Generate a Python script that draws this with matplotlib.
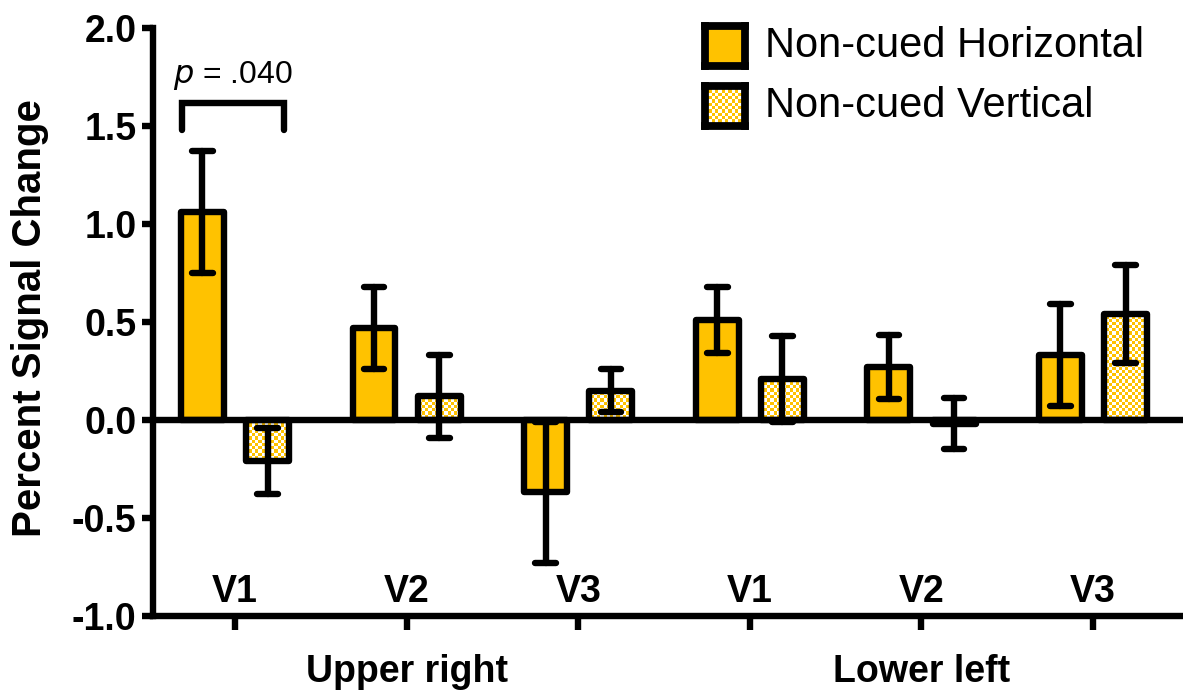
import matplotlib
matplotlib.use("Agg")
import matplotlib.pyplot as plt
import numpy as np
from matplotlib.patches import Rectangle
from matplotlib.transforms import blended_transform_factory

# ----------------------------- Data ------------------------------------------

AREAS = ["V1", "V2", "V3", "V1", "V2", "V3"]
GROUPS = ["Upper right", "Lower left"]
GROUP_CENTER = [1, 4]
SERIES = ["Non-cued Horizontal", "Non-cued Vertical"]

horiz_mean = [1.06, 0.47, -0.37, 0.51, 0.27, 0.33]
horiz_err = [0.31, 0.21, 0.36, 0.17, 0.165, 0.26]
vert_mean = [-0.21, 0.12, 0.15, 0.21, -0.02, 0.54]
vert_err = [0.17, 0.21, 0.11, 0.22, 0.13, 0.25]

Y_TICKS = [-1.0, -0.5, 0.0, 0.5, 1.0, 1.5, 2.0]
Y_TICK_LABELS = ["-1.0", "-0.5", "0.0", "0.5", "1.0", "1.5", "2.0"]

# ----------------------------- Style -----------------------------------------

GOLD = "#FFC200"
LW = 4.6
BAR_W = 0.25
OFFSET = 0.19
XLIM = (-0.478, 5.524)
YLIM = (-1.0, 2.0)

plt.rcParams["font.family"] = ["Liberation Sans", "DejaVu Sans"]


def checker(nrows, ncols):
    rr, cc = np.indices((nrows, ncols))
    img = np.ones((nrows, ncols, 3))
    gold = np.array(matplotlib.colors.to_rgb(GOLD))
    img[(rr + cc) % 2 == 0] = gold
    return img


def draw_bar(ax, x, h, checked):
    face = "white" if checked else GOLD
    fill = Rectangle((x - BAR_W / 2, 0), BAR_W, h, facecolor=face, edgecolor="none", zorder=2)
    ax.add_patch(fill)
    if checked:
        im = ax.imshow(checker(184, 322), extent=(XLIM[0], XLIM[1], YLIM[0], YLIM[1]),
                       aspect="auto", interpolation="nearest", zorder=2.5)
        im.set_clip_path(fill)
    ax.add_patch(Rectangle((x - BAR_W / 2, 0), BAR_W, h, fill=False, edgecolor="black",
                           linewidth=LW, joinstyle="round", zorder=3))


def draw_err(ax, x, m, e):
    cap = 0.06
    ax.vlines(x, m - e, m + e, color="black", linewidth=LW, capstyle="round", zorder=4)
    ax.hlines([m - e, m + e], x - cap, x + cap, color="black", linewidth=LW,
              capstyle="round", zorder=4)


fig = plt.figure(figsize=(11.83, 6.96), dpi=100)
ax = fig.add_axes([0.1293, 0.115, 0.8707, 0.8448])

x = np.arange(len(AREAS))
for i in range(len(AREAS)):
    draw_bar(ax, x[i] - OFFSET, horiz_mean[i], False)
    draw_bar(ax, x[i] + OFFSET, vert_mean[i], True)
    draw_err(ax, x[i] - OFFSET, horiz_mean[i], horiz_err[i])
    draw_err(ax, x[i] + OFFSET, vert_mean[i], vert_err[i])

ax.axhline(0, color="black", linewidth=LW, zorder=5)

ax.set_xlim(*XLIM)
ax.set_ylim(*YLIM)

for s in ["top", "right"]:
    ax.spines[s].set_visible(False)
for s in ["left", "bottom"]:
    ax.spines[s].set_linewidth(LW)

ax.set_yticks(Y_TICKS)
ax.set_yticklabels(Y_TICK_LABELS, fontsize=27, fontweight="bold")
ax.tick_params(axis="y", length=8, width=LW, pad=4)
ax.set_xticks(x)
ax.set_xticklabels([])
ax.tick_params(axis="x", length=10, width=LW)

for i, lab in enumerate(AREAS):
    ax.text(x[i], -0.88, lab, ha="center", va="center", fontsize=27, fontweight="bold")

trans = blended_transform_factory(ax.transData, ax.transAxes)
for g, c in zip(GROUPS, GROUP_CENTER):
    ax.text(c, -0.095, g, transform=trans, ha="center", va="center",
            fontsize=27, fontweight="bold")

fig.text(30 / 1183, 1 - 318 / 696, "Percent Signal Change", rotation=90, ha="center",
         va="center", fontsize=29, fontweight="bold")

# significance bracket
bx0, bx1 = -0.31, 0.285
ax.plot([bx0, bx0, bx1, bx1], [1.48, 1.617, 1.617, 1.48], color="black", linewidth=LW,
        solid_capstyle="round", solid_joinstyle="miter", zorder=5)
ax.text(-0.01, 1.755, r"$\it{p}$ = .040", ha="center", va="center", fontsize=23)

# legend
leg_boxes = [(705, 26), (705, 86)]
for k, (lab, (px, py)) in enumerate(zip(SERIES, leg_boxes)):
    sw = fig.add_axes([px / 1183, 1 - (py + 40) / 696, 40 / 1183, 40 / 696])
    sw.set_xticks([])
    sw.set_yticks([])
    for s in sw.spines.values():
        s.set_linewidth(LW + 1)
    if k == 0:
        sw.set_facecolor(GOLD)
    else:
        sw.imshow(checker(12, 12), aspect="auto", interpolation="nearest")
    fig.text((px + 60) / 1183, 1 - (py + 20) / 696, lab, ha="left", va="center", fontsize=30)

fig.savefig("out.png", dpi=100)
